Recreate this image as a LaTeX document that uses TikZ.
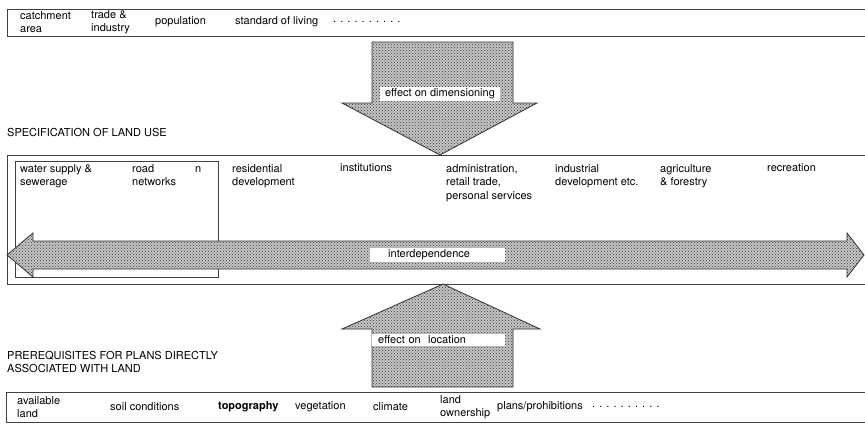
\documentclass[tikz,border=0pt]{standalone}
\usepackage{fontspec}
\setmainfont{TeX Gyre Heros}
\usetikzlibrary{patterns, positioning}

\tikzset{
  boxline/.style={draw=black!75, line width=0.9pt},
  stipple/.style={draw=black!80, line width=0.8pt, fill=gray!45,
    postaction={pattern=crosshatch dots, pattern color=black!80}},
  entry/.style={inner sep=0pt, align=left, font=\fontsize{11}{13.5}\selectfont},
  tagbox/.style={fill=white, inner ysep=1.5pt, align=left, font=\fontsize{11}{13.5}\selectfont},
}

\begin{document}
\begin{tikzpicture}[x=1pt, y=-1pt]
    \useasboundingbox (0,0) rectangle (865,424);

    \draw[boxline] (870,9) -| (7,36) -- (870,36);
    \node[entry, anchor=west] (catch) at (20,22)  {catchment\\area};
    \node[entry, anchor=west] (trade) at (91,22)  {trade \&\\industry};
    \node[entry, anchor=west] (pop)   at (155,22) {population};
    \node[entry, anchor=west] (stand) at (235,22) {standard of living};
    \node[entry, anchor=west] (more1) at (333,22) {. . . . . . . . . .};

    \draw[stipple] (372,42) -- (513,42) -- (513,103) -- (537,103) -- (440,155)
        -- (342,103) -- (372,103) -- cycle;
    \node[tagbox, minimum width=120pt, inner xsep=4pt] (dim) at (440,94) {effect on dimensioning};

    \node[entry, anchor=west] (spec) at (7,132) {SPECIFICATION OF LAND USE};

    \draw[boxline] (870,155) -| (7,284) -- (870,284);
    \draw[boxline] (15,161) rectangle (218,277);
    \node[entry, anchor=north west] (water) at (20,164)  {water supply \&\\sewerage};
    \node[entry, anchor=north west] (road)  at (132,164) {road\\networks};
    \node[entry, anchor=north west] (n)     at (195,164) {\vphantom{d}n};
    \node[entry, anchor=north west] (resid) at (232,164) {residential\\development};
    \node[entry, anchor=north west] (inst)  at (340,164) {institutions};
    \node[entry, anchor=north west] (admin) at (446,164) {administration,\\retail trade,\\personal services};
    \node[entry, anchor=north west] (indus) at (555,164) {industrial\\development etc.};
    \node[entry, anchor=north west] (agri)  at (660,164) {agriculture\\\& forestry};
    \node[entry, anchor=north west] (recr)  at (767,164) {recreation};

    \draw[stipple] (7,255) -- (33,233) -- (33,241) -- (847,241) -- (847,233) -- (864,255)
        -- (847,277) -- (847,269) -- (33,269) -- (33,277) -- cycle;
    \node[tagbox, anchor=west, text width=117pt, inner xsep=9pt] (inter) at (370,255) {\hspace*{9pt}interdependence};

    \draw[stipple] (372,387) -- (513,387) -- (513,329) -- (540,329) -- (443,284)
        -- (342,329) -- (372,329) -- cycle;
    \node[tagbox, anchor=west, text width=121pt, inner xsep=6pt] (loc) at (372,340) {effect on\ \ location};

    \node[entry, anchor=north west] (prereq) at (7,351) {PREREQUISITES FOR PLANS DIRECTLY\\ASSOCIATED WITH LAND};

    \draw[boxline] (870,392) -| (6,422) -- (870,422);
    \node[entry, anchor=west] (avail) at (17,407)  {available\\land};
    \node[entry, anchor=west] (soil)  at (110,407) {soil conditions};
    \node[entry, anchor=west] (topo)  at (218,407) {\bfseries topography};
    \node[entry, anchor=west] (veg)   at (295,407) {vegetation};
    \node[entry, anchor=west] (clim)  at (373,407) {climate};
    \node[entry, anchor=west] (own)   at (440,407) {land\\ownership};
    \node[entry, anchor=west] (plans) at (497,407) {plans/prohibitions};
    \node[entry, anchor=west] (more2) at (592,407) {. . . . . . . . . .};
\end{tikzpicture}
\end{document}
